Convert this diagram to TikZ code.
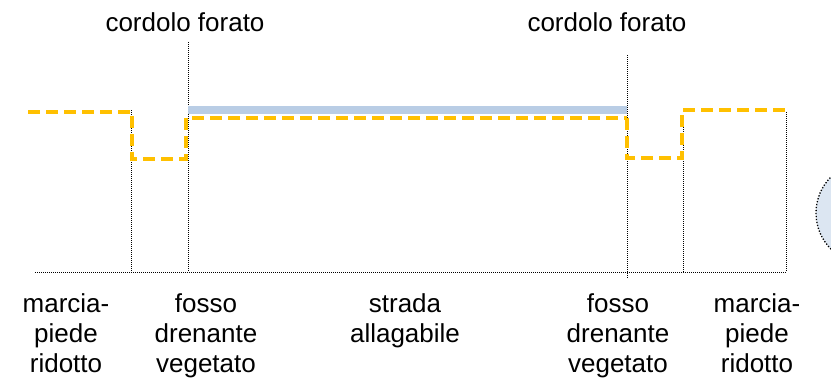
\documentclass[tikz,border=0pt]{standalone}
\usepackage{fontspec}
\setmainfont{Liberation Sans}
\definecolor{waterline}{HTML}{FFC000}
\definecolor{roadblue}{HTML}{B9CDE5}
\definecolor{discfill}{HTML}{DCE6F2}
\tikzset{
  guide/.style={black, line width=1pt, dash pattern=on 1pt off 1pt},
  level/.style={waterline, line width=4pt, dash pattern=on 12pt off 6pt},
  lbl/.style={inner sep=0pt, align=center, font=\fontsize{26}{30}\selectfont},
}
\begin{document}
\begin{tikzpicture}[x=1pt, y=-1pt]
  \useasboundingbox (0,0) rectangle (831,381);

  % partial disc at the right edge
  \begin{scope}
    \clip (0,0) rectangle (831,381);
    \fill[discfill] (867,213) circle (51);
    \draw[black, line width=1.3pt, dash pattern=on 1.3pt off 1.7pt] (867,213) circle (51);
  \end{scope}

  % ground line and section dividers
  \draw[guide] (35,272) -- (787,272);
  \draw[guide] (131,110) -- (131,272);
  \draw[guide] (188,42) -- (188,272);
  \draw[guide] (627,55) -- (627,278);
  \draw[guide] (683,125) -- (683,272);
  \draw[guide] (786,112) -- (786,272);

  % road surface
  \fill[roadblue] (188,106) rectangle (627,114);

  % water levels
  \draw[level] (28,112) -- (132,112) -- (132,159) -- (186,159) -- (186,118) -- (627,118);
  \draw[level] (627,118) -- (627,158) -- (682,158) -- (682,110) -- (786,110);

  % labels above
  \node[lbl, anchor=base] (cordL) at (185,31) {cordolo forato};
  \node[lbl, anchor=base] (cordR) at (607,31) {cordolo forato};

  % labels below (anchored at the baseline of their last line)
  \node[lbl, anchor=base] (marcL) at (66,372) {marcia-\\piede\\ridotto};
  \node[lbl, anchor=base] (fossL) at (206,372) {fosso\\drenante\\vegetato};
  \node[lbl, anchor=base] (strada) at (405,342) {strada\\allagabile};
  \node[lbl, anchor=base] (fossR) at (618,372) {fosso\\drenante\\vegetato};
  \node[lbl, anchor=base] (marcR) at (757,372) {marcia-\\piede\\ridotto};
\end{tikzpicture}
\end{document}
